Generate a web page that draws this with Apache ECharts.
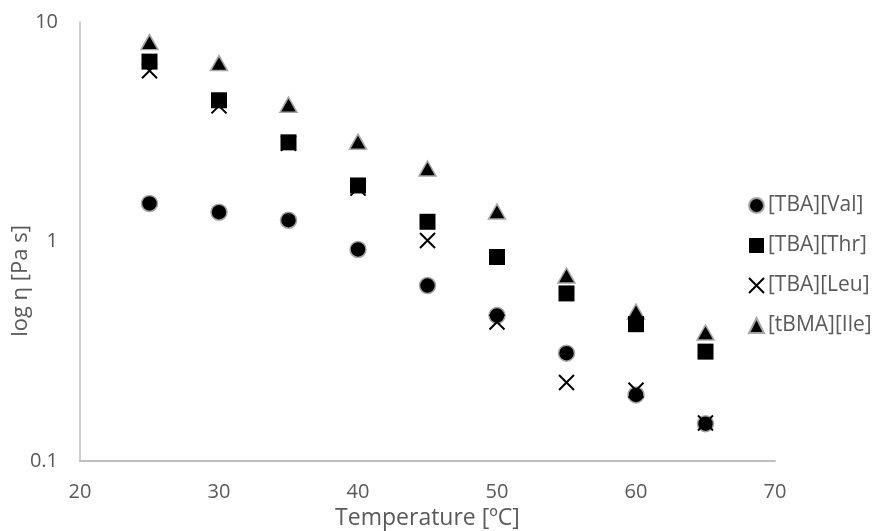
<!DOCTYPE html>
<html>
<head>
<meta charset="utf-8">
<script src="https://cdn.jsdelivr.net/npm/echarts@6/dist/echarts.min.js"></script>
<style>
  html, body { margin: 0; padding: 0; background: #fff; }
  #chart { width: 876px; height: 531px; }
</style>
</head>
<body>
<div id="chart"></div>
<script>
// Viscosity vs temperature for four amino-acid ionic liquids
const temperatures = [25, 30, 35, 40, 45, 50, 55, 60, 65];
const valValues = [1.49, 1.36, 1.25, 0.92, 0.63, 0.46, 0.31, 0.20, 0.148];
const thrValues = [6.6, 4.4, 2.83, 1.80, 1.23, 0.85, 0.58, 0.42, 0.315];
const leuValues = [6.0, 4.15, 2.80, 1.75, 1.01, 0.43, 0.228, 0.21, 0.149];
const ileValues = [8.1, 6.5, 4.2, 2.85, 2.15, 1.37, 0.70, 0.48, 0.385];
const seriesNames = ['[TBA][Val]', '[TBA][Thr]', '[TBA][Leu]', '[tBMA][Ile]'];
const yTickLabels = ['0.1', '1', '10'];
const yTitle = 'log η [Pa s]';
const xTitle = 'Temperature [ºC]';

const FONT = 'Open Sans';
const TEXT = '#595959';
const AXIS = '#bfbfbf';
const crossPath = 'path://M0,0L10,10M10,0L0,10';

function pairs(values) {
  return temperatures.map((t, i) => [t, values[i]]);
}

const chart = echarts.init(document.getElementById('chart'), null, { renderer: 'canvas' });

const styles = {
  '[TBA][Val]': { symbol: 'circle', symbolSize: 16, itemStyle: { color: '#000', borderColor: '#a6a6a6', borderWidth: 1.5, opacity: 1 } },
  '[TBA][Thr]': { symbol: 'rect', symbolSize: 16, itemStyle: { color: '#000', opacity: 1 } },
  '[TBA][Leu]': { symbol: crossPath, symbolSize: 15, itemStyle: { color: 'rgba(0,0,0,0)', borderColor: '#000', borderWidth: 2, opacity: 1 } },
  '[tBMA][Ile]': { symbol: 'triangle', symbolSize: [17, 15], itemStyle: { color: '#000', borderColor: '#a6a6a6', borderWidth: 1.5, opacity: 1 } }
};

const legendIcons = {
  '[TBA][Val]': 'circle',
  '[TBA][Thr]': 'rect',
  '[TBA][Leu]': crossPath,
  '[tBMA][Ile]': 'triangle'
};

const dataByName = {
  '[TBA][Val]': valValues,
  '[TBA][Thr]': thrValues,
  '[TBA][Leu]': leuValues,
  '[tBMA][Ile]': ileValues
};

// paint order: circles first, squares last
const paintOrder = ['[TBA][Val]', '[tBMA][Ile]', '[TBA][Leu]', '[TBA][Thr]'];

chart.setOption({
  animation: false,
  backgroundColor: '#fff',
  textStyle: { fontFamily: FONT },
  grid: { left: 80, right: 101, top: 22, bottom: 70, containLabel: false, outerBoundsMode: 'none' },
  // vertical axis title, placed a little below the plot's middle
  graphic: [{
    type: 'text',
    x: 21,
    y: 281,
    rotation: Math.PI / 2,
    style: {
      text: yTitle,
      fill: TEXT,
      font: '22px "' + FONT + '"',
      align: 'center',
      verticalAlign: 'middle'
    }
  }],
  legend: {
    orient: 'vertical',
    left: 743,
    top: 190,
    itemGap: 19,
    itemWidth: 15,
    itemHeight: 15,
    textStyle: { color: TEXT, fontSize: 21, fontFamily: FONT, padding: [0, 0, 0, -1] },
    data: seriesNames.map(n => ({ name: n, icon: legendIcons[n] }))
  },
  xAxis: {
    type: 'value',
    min: 20,
    max: 70,
    interval: 10,
    name: xTitle,
    nameLocation: 'middle',
    nameGap: 45,
    nameTextStyle: { color: TEXT, fontSize: 23, fontFamily: FONT },
    axisLine: { show: true, lineStyle: { color: AXIS, width: 2 } },
    axisTick: { show: false },
    splitLine: { show: false },
    axisLabel: { color: TEXT, fontSize: 20, margin: 21, fontFamily: FONT }
  },
  yAxis: {
    type: 'log',
    logBase: 10,
    min: 0.1,
    max: 10,
    axisLine: { show: true, onZero: false, lineStyle: { color: AXIS, width: 1.5 } },
    axisTick: { show: false },
    splitLine: { show: false },
    axisLabel: {
      color: TEXT, fontSize: 20, margin: 22, fontFamily: FONT,
      formatter: v => {
        const e = Math.round(Math.log10(v));
        return yTickLabels[e + 1] !== undefined ? yTickLabels[e + 1] : String(v);
      }
    }
  },
  series: paintOrder.map(n => ({
    name: n,
    type: 'scatter',
    symbol: styles[n].symbol,
    symbolSize: styles[n].symbolSize,
    itemStyle: styles[n].itemStyle,
    data: pairs(dataByName[n])
  }))
});
</script>
</body>
</html>
